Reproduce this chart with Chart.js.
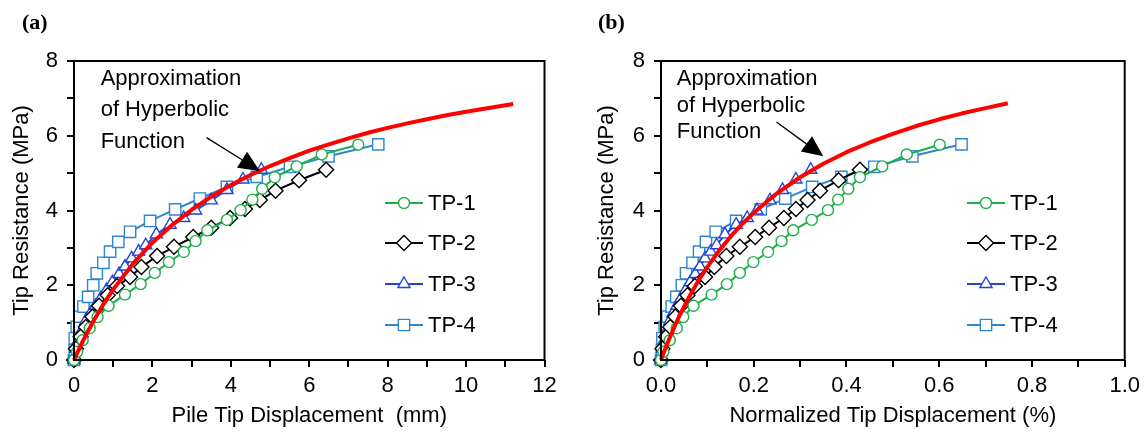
<!DOCTYPE html>
<html>
<head>
<meta charset="utf-8">
<script src="https://cdn.jsdelivr.net/npm/chart.js@4.4.1/dist/chart.umd.min.js"></script>
<style>
  html, body { margin: 0; padding: 0; background: #fff; }
  #wrap { position: relative; width: 1146px; height: 435px; overflow: hidden; }
  .pane { position: absolute; top: 0; width: 573px; height: 435px; }
  .tag { position: absolute; top: 9px; font: bold 22px "Liberation Serif", serif; color: #000; }
</style>
</head>
<body>
<div id="wrap">
  <div class="pane" style="left:0"><canvas id="ca" width="573" height="435"></canvas></div>
  <div class="pane" style="left:573px"><canvas id="cb" width="573" height="435"></canvas></div>
  <div class="tag" style="left:22px">(a)</div>
  <div class="tag" style="left:598px">(b)</div>
</div>
<script>
// Tip resistance vs. tip displacement for four test piles, with the
// hyperbolic approximation; (a) in mm, (b) normalized by pile diameter.

// ------------------------------------------------------------------ data
const tp1Load = [0, 0.22, 0.53, 0.85, 1.15, 1.45, 1.75, 2.03, 2.33, 2.62, 2.89, 3.18, 3.47, 3.75, 4.01, 4.29, 4.58, 4.89, 5.18, 5.5, 5.76];
const tp1Mm   = [0, 0.08, 0.22, 0.4, 0.6, 0.88, 1.3, 1.7, 2.06, 2.42, 2.8, 3.1, 3.4, 3.9, 4.25, 4.55, 4.8, 5.12, 5.68, 6.32, 7.25];
const tp1Pct  = [0, 0.005, 0.019, 0.034, 0.048, 0.07, 0.109, 0.142, 0.17, 0.199, 0.231, 0.26, 0.285, 0.325, 0.36, 0.382, 0.404, 0.429, 0.477, 0.53, 0.601];

const tp2Load = [0, 0.3, 0.62, 0.88, 1.16, 1.45, 1.73, 1.98, 2.22, 2.49, 2.78, 3.03, 3.29, 3.54, 3.8, 4.04, 4.28, 4.53, 4.81, 5.09];
const tp2Mm   = [0, 0.05, 0.17, 0.3, 0.47, 0.64, 0.86, 1.1, 1.43, 1.72, 2.12, 2.55, 3.04, 3.5, 3.98, 4.36, 4.74, 5.14, 5.74, 6.43];
const tp2Pct  = [0, 0.003, 0.011, 0.02, 0.031, 0.043, 0.057, 0.073, 0.095, 0.115, 0.141, 0.17, 0.203, 0.233, 0.265, 0.291, 0.316, 0.343, 0.383, 0.429];

const tp3Load = [0, 0.3, 0.55, 0.8, 1.05, 1.25, 1.45, 1.65, 1.87, 2.08, 2.3, 2.5, 2.72, 2.9, 3.07, 3.36, 3.62, 3.8, 4.0, 4.27, 4.55, 4.83, 5.09];
const tp3Mm   = [0, 0.05, 0.12, 0.2, 0.3, 0.42, 0.55, 0.68, 0.83, 0.98, 1.15, 1.3, 1.47, 1.65, 1.83, 2.1, 2.45, 2.8, 3.1, 3.5, 3.9, 4.31, 4.78];
const tp3Pct  = [0, 0.003, 0.008, 0.013, 0.019, 0.026, 0.034, 0.043, 0.053, 0.063, 0.074, 0.084, 0.095, 0.107, 0.12, 0.138, 0.162, 0.186, 0.207, 0.235, 0.262, 0.291, 0.323];

const tp4Load = [0, 0.27, 0.58, 0.89, 1.16, 1.43, 1.69, 2.0, 2.32, 2.6, 2.9, 3.16, 3.43, 3.72, 4.03, 4.32, 4.63, 4.9, 5.17, 5.45, 5.77];
const tp4Mm   = [0, 0.02, 0.02, 0.07, 0.15, 0.24, 0.36, 0.49, 0.58, 0.75, 0.92, 1.13, 1.43, 1.94, 2.58, 3.21, 3.9, 4.66, 5.51, 6.49, 7.76];
const tp4Pct  = [0, 0.002, 0.003, 0.008, 0.014, 0.023, 0.033, 0.045, 0.054, 0.068, 0.082, 0.097, 0.118, 0.162, 0.215, 0.268, 0.326, 0.389, 0.46, 0.542, 0.648];

// hyperbolic approximation, read along the red curve of each panel
const hypMm       = [0, 0.1, 0.25, 0.5, 0.75, 1, 1.5, 2, 2.5, 3, 3.5, 4, 4.5, 5, 5.5, 6, 6.5, 7, 7.5, 8, 8.5, 9, 9.5, 10, 10.5, 11.2];
const hypMmLoad   = [0, 0.23, 0.56, 1.05, 1.49, 1.89, 2.57, 3.14, 3.61, 4.02, 4.37, 4.68, 4.95, 5.19, 5.4, 5.6, 5.77, 5.93, 6.08, 6.21, 6.33, 6.44, 6.55, 6.64, 6.73, 6.85];
const hypPct      = [0, 0.005, 0.01, 0.02, 0.03, 0.04, 0.06, 0.08, 0.1, 0.125, 0.15, 0.175, 0.2, 0.25, 0.3, 0.35, 0.4, 0.45, 0.5, 0.55, 0.6, 0.65, 0.7, 0.748];
const hypPctLoad  = [0, 0.17, 0.33, 0.63, 0.92, 1.19, 1.67, 2.11, 2.49, 2.92, 3.3, 3.64, 3.94, 4.46, 4.89, 5.25, 5.56, 5.82, 6.05, 6.26, 6.44, 6.6, 6.74, 6.87];

const seriesNames = ["TP-1", "TP-2", "TP-3", "TP-4"];
const yTicks = [0, 2, 4, 6, 8];
const xTicksMm = [0, 2, 4, 6, 8, 10, 12];
const xTicksPct = ["0.0", "0.2", "0.4", "0.6", "0.8", "1.0"];
const noteLines = ["Approximation", "of Hyperbolic", "Function"];

// ------------------------------------------------------------------ styles
const FONT = "'Liberation Sans', Arial, sans-serif";
const STYLE = [
  { color: "#1fae4a", pointStyle: "circle",  radius: 5.5 },
  { color: "#000000", pointStyle: "rectRot", radius: 7.5 },
  { color: "#1f45d8", pointStyle: "triangle", radius: 7 },
  { color: "#2d86cf", pointStyle: "rect",    radius: 8 },
];

function pts(xs, ys) { return xs.map((x, i) => ({ x, y: ys[i] })); }

function makeDatasets(xsList, ysList, hypX, hypY) {
  const ds = [{
    label: "hyp", data: pts(hypX, hypY), borderColor: "#ff0000", borderWidth: 4,
    pointRadius: 0, tension: 0, clip: false, isHyp: true,
  }];
  seriesNames.forEach((name, i) => {
    const s = STYLE[i];
    ds.push({
      label: name, data: pts(xsList[i], ysList[i]),
      borderColor: s.color, borderWidth: 2, tension: 0,
      pointStyle: s.pointStyle, pointRadius: s.radius,
      pointBorderColor: s.color, pointBackgroundColor: "#ffffff",
      pointBorderWidth: 1.4, clip: false,
    });
  });
  return ds;
}

// frame, legend and the arrow note
const decor = {
  id: "decor",
  afterDatasetsDraw(chart, args, o) {
    const ctx = chart.ctx, a = chart.chartArea;
    const xs = chart.scales.x, ys = chart.scales.y;
    ctx.save();
    // box
    ctx.strokeStyle = "#000"; ctx.lineWidth = 2;
    ctx.strokeRect(a.left, a.top, a.right - a.left, a.bottom - a.top);

    // legend
    ctx.font = "22px " + FONT;
    ctx.textBaseline = "middle";
    ctx.textAlign = "left";
    chart.data.datasets.filter(d => !d.isHyp).forEach((d, i) => {
      const y = o.legY[i];
      ctx.strokeStyle = d.borderColor; ctx.lineWidth = 2;
      ctx.beginPath(); ctx.moveTo(o.legX1, y); ctx.lineTo(o.legX2, y); ctx.stroke();
      ctx.fillStyle = "#fff"; ctx.lineWidth = 1.4;
      Chart.helpers.drawPoint(ctx, { pointStyle: d.pointStyle, radius: d.pointRadius, rotation: 0, borderWidth: 1.4 },
        (o.legX1 + o.legX2) / 2, y);
      ctx.fillStyle = "#000";
      ctx.fillText(d.label, o.legX2 + 5, y + 1);
    });

    // note text
    ctx.textBaseline = "alphabetic";
    ctx.fillStyle = "#000";
    const tx = xs.getPixelForValue(o.noteX);
    noteLines.forEach((t, i) => ctx.fillText(t, tx, ys.getPixelForValue(o.noteY[i])));

    // arrow
    const x0 = xs.getPixelForValue(o.arrFrom[0]), y0 = ys.getPixelForValue(o.arrFrom[1]);
    const x1 = xs.getPixelForValue(o.arrTo[0]), y1 = ys.getPixelForValue(o.arrTo[1]);
    const ang = Math.atan2(y1 - y0, x1 - x0), L = 21, W = 9.5;
    const bx = x1 - L * Math.cos(ang), by = y1 - L * Math.sin(ang);
    ctx.strokeStyle = "#000"; ctx.lineWidth = 1.3;
    ctx.beginPath(); ctx.moveTo(x0, y0); ctx.lineTo(bx, by); ctx.stroke();
    ctx.fillStyle = "#000";
    ctx.beginPath();
    ctx.moveTo(x1, y1);
    ctx.lineTo(bx + W * Math.sin(ang), by - W * Math.cos(ang));
    ctx.lineTo(bx - W * Math.sin(ang), by + W * Math.cos(ang));
    ctx.closePath(); ctx.fill();
    ctx.restore();
  }
};

function axisX(max, step, title, labelFn) {
  return {
    type: "linear", min: 0, max: max,
    afterFit(s) { s.height = 75; },
    afterBuildTicks(s) { s.ticks = []; for (let v = 0; v <= max + 1e-9; v += step) s.ticks.push({ value: +v.toFixed(4) }); },
    ticks: { autoSkip: false, maxRotation: 0, padding: 6, color: "#000",
             font: { family: FONT, size: 22 }, callback: labelFn },
    grid: { drawOnChartArea: false, drawTicks: true, tickLength: 7, color: "#000", lineWidth: 2 },
    border: { display: false },
    title: { display: true, text: title, color: "#000", font: { family: FONT, size: 22 },
             padding: { top: 0, bottom: 6 } },
  };
}

function axisY(width, titlePad) {
  return {
    type: "linear", min: 0, max: 8,
    afterFit(s) { s.width = width; },
    afterBuildTicks(s) { s.ticks = []; for (let v = 0; v <= 8; v++) s.ticks.push({ value: v }); },
    ticks: { autoSkip: false, padding: 9, color: "#000", font: { family: FONT, size: 22 },
             callback: v => (yTicks.includes(v) ? String(v) : "") },
    grid: { drawOnChartArea: false, drawTicks: true, tickLength: 7, color: "#000", lineWidth: 2 },
    border: { display: false },
    title: { display: true, text: "Tip Resistance (MPa)", color: "#000",
             font: { family: FONT, size: 22 }, padding: { top: titlePad, bottom: 0 } },
  };
}

function build(id, datasets, xAxis, yAxis, padRight, decorOpts) {
  return new Chart(document.getElementById(id), {
    type: "line",
    data: { datasets },
    options: {
      responsive: false, animation: false, devicePixelRatio: 1,
      parsing: false,
      layout: { padding: { top: 61, right: padRight, left: 0, bottom: 0 } },
      scales: { x: xAxis, y: yAxis },
      plugins: { legend: { display: false }, tooltip: { enabled: false }, decor: decorOpts },
      elements: { line: { borderJoinStyle: "round" } },
    },
    plugins: [decor],
  });
}

// ------------------------------------------------------------------ (a)
build("ca",
  makeDatasets([tp1Mm, tp2Mm, tp3Mm, tp4Mm], [tp1Load, tp2Load, tp3Load, tp4Load], hypMm, hypMmLoad),
  axisX(12, 1, "Pile Tip Displacement  (mm)",
        v => (xTicksMm.includes(Math.round(v)) && Math.abs(v - Math.round(v)) < 1e-6 ? String(Math.round(v)) : "")),
  axisY(74, 8.5), 28.5,
  { legX1: 385, legX2: 423, legY: [203, 243, 284, 325],
    noteX: 0.68, noteY: [7.35, 6.52, 5.67],
    arrFrom: [3.38, 5.95], arrTo: [4.74, 5.06] });

// ------------------------------------------------------------------ (b)
build("cb",
  makeDatasets([tp1Pct, tp2Pct, tp3Pct, tp4Pct], [tp1Load, tp2Load, tp3Load, tp4Load], hypPct, hypPctLoad),
  axisX(1, 0.1, "Normalized Tip Displacement (%)",
        v => { const s = v.toFixed(1); return xTicksPct.includes(s) && Math.abs(v * 10 - Math.round(v * 10)) < 1e-6 && Math.round(v * 10) % 2 === 0 ? s : ""; }),
  axisY(88, 20.5), 21,
  { legX1: 394, legX2: 432, legY: [203, 243, 284, 325],
    noteX: 0.034, noteY: [7.35, 6.64, 5.94],
    arrFrom: [0.249, 6.37], arrTo: [0.35, 5.45] });
</script>
</body>
</html>
